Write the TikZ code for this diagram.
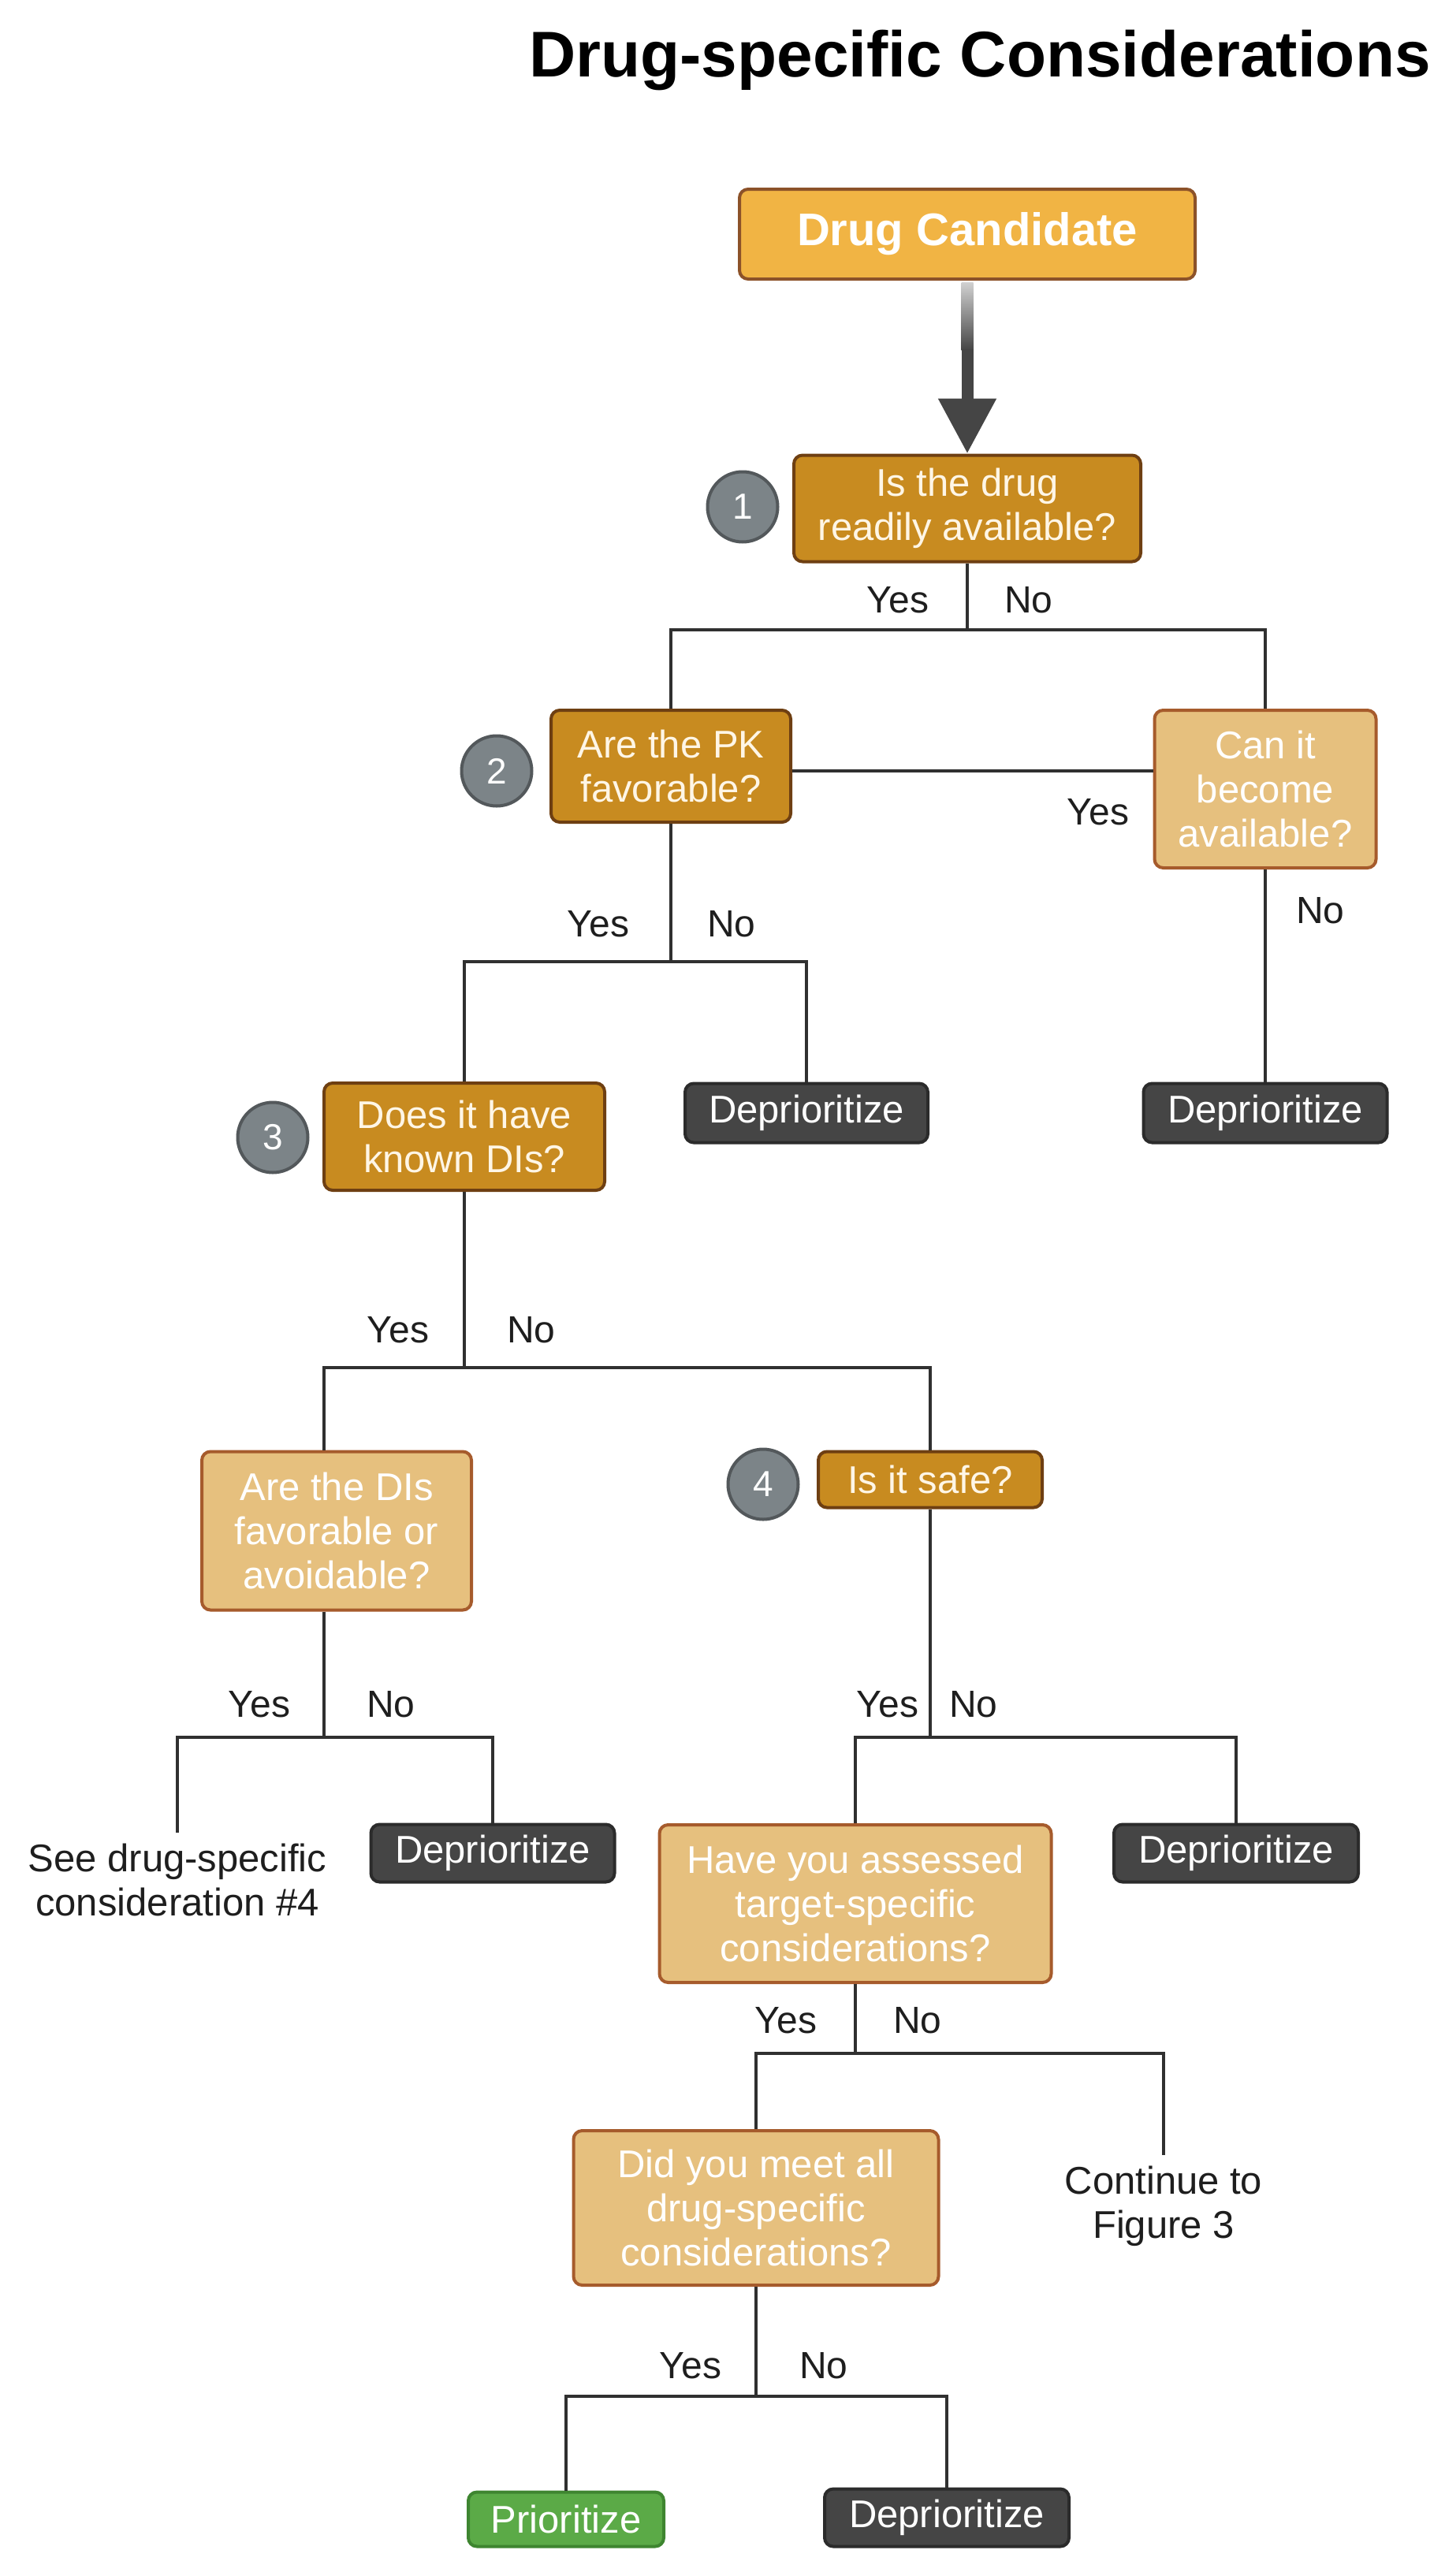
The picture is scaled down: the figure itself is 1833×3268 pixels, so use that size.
\documentclass[tikz,border=0pt]{standalone}
\usepackage{fontspec}
\setmainfont{Liberation Sans}
\usetikzlibrary{arrows.meta,calc}
\definecolor{candfill}{HTML}{F1B444}
\definecolor{candline}{HTML}{8C5229}
\definecolor{goldfill}{HTML}{C88B20}
\definecolor{goldline}{HTML}{6E3F12}
\definecolor{tanfill}{HTML}{E6C07E}
\definecolor{tanline}{HTML}{A65B2C}
\definecolor{darkfill}{HTML}{454545}
\definecolor{darkline}{HTML}{2B2B2B}
\definecolor{grnfill}{HTML}{5BAA47}
\definecolor{grnline}{HTML}{3E8530}
\definecolor{circfill}{HTML}{7C8488}
\definecolor{circline}{HTML}{53585B}
\definecolor{connc}{HTML}{303030}
\definecolor{creamtext}{HTML}{FFF6E6}
\definecolor{labeltext}{HTML}{1E1E1E}
\tikzset{
  flowbox/.style={rounded corners=11pt, line width=4pt, inner sep=0pt, align=center,
    font=\fontsize{49}{56}\selectfont},
  goldbox/.style={flowbox, fill=goldfill, draw=goldline, text=creamtext},
  tanbox/.style={flowbox, fill=tanfill, draw=tanline, text=white},
  darkbox/.style={flowbox, fill=darkfill, draw=darkline, text=white},
  greenbox/.style={flowbox, fill=grnfill, draw=grnline, text=white},
  numcirc/.style={circle, minimum size=89pt, inner sep=0pt, fill=circfill, draw=circline,
    line width=4pt, text=white, font=\fontsize{46}{46}\selectfont},
  conn/.style={draw=connc, line width=4.5pt},
  yn/.style={inner sep=0pt, text=labeltext, font=\fontsize{48}{56}\selectfont},
  plaintext/.style={inner sep=0pt, inner ysep=14pt, align=center, text=labeltext,
    font=\fontsize{49}{56}\selectfont},
}
\begin{document}
\begin{tikzpicture}[x=1pt, y=-1pt]
\useasboundingbox (0,0) rectangle (1833,3268);

% title
\node[anchor=base, inner sep=0pt, font=\bfseries\fontsize{82}{90}\selectfont] (title) at (1243,97) {Drug-specific Considerations};

% nodes
\node[flowbox, fill=candfill, draw=candline, text=white, font=\bfseries\fontsize{58}{64}\selectfont,
      minimum width=578pt, minimum height=114pt] (dc) at (1227,297) {Drug Candidate};
\node[goldbox, minimum width=440pt, minimum height=135pt] (q1) at (1227,645) {Is the drug\\readily available?};
\node[goldbox, minimum width=304pt, minimum height=142pt] (q2) at (851,972) {Are the PK\\favorable?};
\node[tanbox, minimum width=281pt, minimum height=200pt] (canit) at (1605,1001) {Can it\\become\\available?};
\node[goldbox, minimum width=356pt, minimum height=136pt] (q3) at (589,1442) {Does it have\\known DIs?};
\node[darkbox, minimum width=308pt, minimum height=75pt] (dep1) at (1023,1412) {Deprioritize};
\node[darkbox, minimum width=309pt, minimum height=75pt] (dep2) at (1605,1412) {Deprioritize};
\node[tanbox, minimum width=342pt, minimum height=201pt] (dis) at (427,1942) {Are the DIs\\favorable or\\avoidable?};
\node[goldbox, minimum width=284pt, minimum height=71pt] (safe) at (1180,1877) {Is it safe?};
\node[plaintext] (see) at (225,2385) {See drug-specific\\consideration \#4};
\node[darkbox, minimum width=309pt, minimum height=73pt] (dep3) at (625,2351) {Deprioritize};
\node[tanbox, minimum width=497pt, minimum height=200pt] (assess) at (1085,2415) {Have you assessed\\target-specific\\considerations?};
\node[darkbox, minimum width=310pt, minimum height=73pt] (dep4) at (1568,2351) {Deprioritize};
\node[tanbox, minimum width=463pt, minimum height=196pt] (meet) at (959,2801) {Did you meet all\\drug-specific\\considerations?};
\node[plaintext] (cont) at (1476,2799) {Continue to\\Figure 3};
\node[greenbox, minimum width=248pt, minimum height=69pt] (prio) at (718,3196) {Prioritize};
\node[darkbox, minimum width=310pt, minimum height=73pt] (dep5) at (1201,3194) {Deprioritize};

% numbered circles
\node[numcirc] (n1) at (942,643) {1};
\node[numcirc] (n2) at (630,978) {2};
\node[numcirc] (n3) at (346,1443) {3};
\node[numcirc] (n4) at (968,1883) {4};

% main arrow
\shade[top color=black!18, bottom color=darkfill] ($(dc.south)+(-7.5,2)$) rectangle ($(dc.south)+(7.5,88)$);
\draw[draw=darkfill, line width=15pt, -{Triangle[width=70pt,length=70pt]}] ($(dc.south)+(0,87)$) -- (q1.north);

% junction coordinates
\coordinate (j1) at (1227,799);
\coordinate (j2) at (851,1220);
\coordinate (j3) at (589,1735);
\coordinate (d3) at (411,1735);
\coordinate (j4) at (411,2204);
\coordinate (j5) at (1180,2204);
\coordinate (j6) at (1085,2605);
\coordinate (j7) at (959,3040);

% connectors
\draw[conn] (q1.south) -- (j1);
\draw[conn] (q2.north) -- (q2.north |- j1) -- (canit.north |- j1) -- (canit.north);
\draw[conn] ($(q2.east)+(0,6)$) -- ($(q2.east -| canit.west)+(0,6)$);
\draw[conn] (canit.south) -- (dep2.north);

\draw[conn] (q2.south) -- (j2);
\draw[conn] (q3.north) -- (q3.north |- j2) -- (dep1.north |- j2) -- (dep1.north);

\draw[conn] (q3.south) -- (j3);
\draw[conn] (dis.north -| d3) -- (d3) -- (safe.north |- j3) -- (safe.north);

\draw[conn] (dis.south -| d3) -- (j4);
\draw[conn] (see.north) -- (see.north |- j4) -- (dep3.north |- j4) -- (dep3.north);

\draw[conn] (safe.south) -- (j5);
\draw[conn] (assess.north) -- (assess.north |- j5) -- (dep4.north |- j5) -- (dep4.north);

\draw[conn] (assess.south) -- (j6);
\draw[conn] (meet.north) -- (meet.north |- j6) -- (cont.north |- j6) -- (cont.north);

\draw[conn] (meet.south) -- (j7);
\draw[conn] (prio.north) -- (prio.north |- j7) -- (dep5.north |- j7) -- (dep5.north);

% yes / no labels
\node[yn] (y1) at (1139,761) {Yes};
\node[yn] (no1) at (1305,761) {No};
\node[yn] (yc) at (1393,1030) {Yes};
\node[yn] (nc) at (1675,1155) {No};
\node[yn] (y2) at (759,1172) {Yes};
\node[yn] (no2) at (928,1172) {No};
\node[yn] (y3) at (505,1687) {Yes};
\node[yn] (no3) at (674,1687) {No};
\node[yn] (yd) at (329,2162) {Yes};
\node[yn] (nd) at (496,2162) {No};
\node[yn] (ys) at (1126,2162) {Yes};
\node[yn] (ns) at (1235,2162) {No};
\node[yn] (ya) at (997,2563) {Yes};
\node[yn] (na) at (1164,2563) {No};
\node[yn] (ym) at (876,3001) {Yes};
\node[yn] (nm) at (1045,3001) {No};
\end{tikzpicture}
\end{document}
